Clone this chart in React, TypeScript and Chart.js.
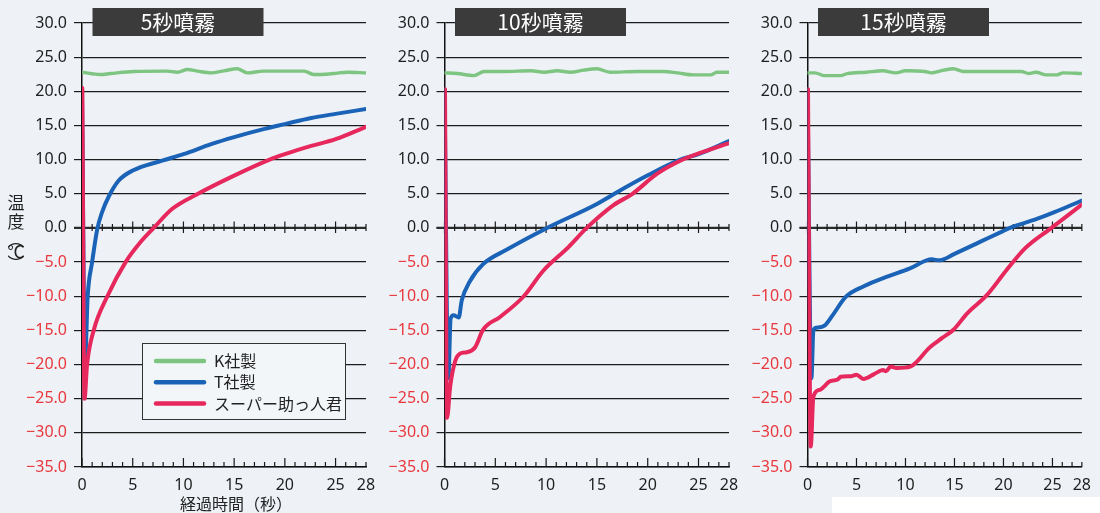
import React, { useEffect, useRef } from "react";
import { Chart, registerables } from "chart.js";
Chart.register(...registerables);

// ---- text ----
const seriesNames = ["K社製", "T社製", "スーパー助っ人君"];
const panelTitles = ["5秒噴霧", "10秒噴霧", "15秒噴霧"];
const yAxisTitleChars = ["温", "度", "︵", "℃", "︶"];
const xAxisTitle = "経過時間（秒）";
const xTickValues = [0, 5, 10, 15, 20, 25, 28];
const yTickValues = [-35, -30, -25, -20, -15, -10, -5, 0, 5, 10, 15, 20, 25, 30];

// ---- panel 1 : 5秒噴霧 ----
const p1KTime = [0, 1.8, 2.8, 5.1, 8.4, 9.4, 10.4, 11.4, 12.7, 14.0, 15.3, 16.3, 17.9, 21.9, 22.9, 24.8, 26.2, 28];
const p1KTemp = [22.8, 22.45, 22.6, 22.9, 22.95, 22.8, 23.2, 22.95, 22.7, 23.0, 23.3, 22.7, 22.95, 22.95, 22.45, 22.6, 22.8, 22.7];
const p1TTime = [0, 0.3, 0.56, 1.0, 1.5, 2.0, 2.64, 3.6, 5, 7.9, 10, 12.8, 15, 18, 20, 22.6, 25, 28];
const p1TTemp = [20.4, -19.5, -10, -5, -0.2, 2.4, 4.6, 6.9, 8.4, 9.85, 10.8, 12.3, 13.3, 14.5, 15.2, 16.1, 16.7, 17.4];
const p1RTime = [0.03, 0.25, 0.5, 1.15, 2.5, 4.3, 5.9, 7.07, 8.9, 11.3, 15, 18.5, 20, 22.6, 25, 28];
const p1RTemp = [20.5, -25, -20, -15, -10, -5, -1.85, 0, 2.8, 4.9, 7.66, 10, 10.8, 12, 13, 14.8];

// ---- panel 2 : 10秒噴霧 ----
const p2KTime = [0, 1.25, 2.9, 3.9, 5.8, 8.5, 9.8, 11.1, 12.4, 13.7, 15.0, 16.3, 19.0, 21.6, 22.9, 24.5, 26.2, 26.8, 28];
const p2KTemp = [22.7, 22.6, 22.3, 22.9, 22.9, 23.0, 22.8, 23.0, 22.8, 23.1, 23.3, 22.8, 22.9, 22.9, 22.7, 22.4, 22.4, 22.8, 22.8];
const p2TTime = [0, 0.38, 0.6, 0.9, 1.4, 1.7, 2.5, 3.8, 6.1, 10.1, 15, 16.6, 20, 23.2, 25, 28];
const p2TTemp = [20.3, -22, -13.3, -12.8, -13.1, -10.6, -7.8, -5.3, -3.2, 0, 3.5, 4.9, 7.7, 10, 10.8, 12.7];
const p2RTime = [0.05, 0.25, 0.56, 1.05, 1.55, 2.2, 3.0, 3.8, 5.5, 7.8, 9.7, 12.2, 14.0, 16.6, 18.5, 20.9, 23.3, 25, 28];
const p2RTemp = [20.3, -27.8, -23.2, -19.5, -18.4, -18.2, -17.5, -14.9, -13.0, -10.0, -6.3, -2.8, 0, 3.3, 5.0, 7.9, 9.9, 10.9, 12.4];

// ---- panel 3 : 15秒噴霧 ----
const p3KTime = [0, 0.76, 1.74, 3.39, 4.05, 6.0, 7.7, 9.0, 10.0, 12.0, 12.6, 13.9, 14.9, 15.9, 19.2, 21.8, 22.6, 23.3, 24.4, 25.4, 26.1, 28];
const p3KTemp = [22.7, 22.7, 22.3, 22.3, 22.6, 22.8, 23.0, 22.7, 23.0, 22.9, 22.7, 23.1, 23.3, 22.9, 22.9, 22.9, 22.6, 22.8, 22.4, 22.4, 22.7, 22.6];
const p3TTime = [0, 0.4, 0.6, 0.9, 1.74, 2.56, 3.9, 5.8, 7.8, 10.4, 12.7, 13.4, 15, 17.6, 19.9, 20.9, 23.2, 25.2, 28];
const p3TTemp = [20.3, -22, -15, -14.6, -14.3, -12.8, -10.1, -8.5, -7.3, -5.95, -4.6, -4.75, -3.8, -2.05, -0.5, 0.15, 1.2, 2.3, 4.0];
const p3RTime = [0.05, 0.33, 0.6, 1.25, 2.24, 3.06, 3.4, 4.5, 5.0, 5.7, 6.8, 7.7, 8.0, 8.5, 9.1, 10.5, 11.0, 12.4, 13.75, 14.9, 16.3, 18.3, 20.3, 22.2, 24.9, 28];
const p3RTemp = [20.3, -32, -24.7, -23.7, -22.5, -22.2, -21.8, -21.7, -21.5, -22.1, -21.4, -20.8, -21.0, -20.3, -20.5, -20.3, -19.8, -17.6, -16.1, -14.9, -12.5, -9.85, -6.2, -3.0, 0, 3.4];

// ---- styling ----
const W = 1100;
const H = 513;
const BG = "#eef2f7";
const COL_K = "#7dc581";
const COL_T = "#1b63b7";
const COL_R = "#e6285c";
const NEG = "#e8383d";
const INK = "#1e1e1e";
const NUM_FONT = "'Noto Sans', 'DejaVu Sans', sans-serif";
const JP_FONT = "'Noto Sans CJK JP', 'Noto Sans', sans-serif";
const Y_AXIS_W = 60;
const PLOT_TOP = 23;
const PLOT_BOTTOM = 467;

const panels = [
  { title: panelTitles[0], k: [p1KTime, p1KTemp], t: [p1TTime, p1TTemp], r: [p1RTime, p1RTemp], left: 82, right: 366, main: true },
  { title: panelTitles[1], k: [p2KTime, p2KTemp], t: [p2TTime, p2TTemp], r: [p2RTime, p2RTemp], left: 444.5, right: 729, main: false },
  { title: panelTitles[2], k: [p3KTime, p3KTemp], t: [p3TTime, p3TTemp], r: [p3RTime, p3RTemp], left: 807.5, right: 1092, main: false },
];

const toPts = (pair: number[][]) => pair[0].map((x, i) => ({ x, y: pair[1][i] }));
const fmt = (v: number) => (v < 0 ? "\u2212" + Math.abs(v).toFixed(1) : v.toFixed(1));

function makeDecor(p: any) {
  return {
    id: "decor",
    beforeDatasetsDraw(chart: any) {
      const { ctx, chartArea: ca, scales } = chart;
      const x = scales.x;
      const y = scales.y;
      const y0 = y.getPixelForValue(0);
      ctx.save();
      ctx.strokeStyle = "#2b2b2b";
      ctx.lineWidth = 2.4;
      ctx.beginPath();
      ctx.moveTo(ca.left - 8, y0);
      ctx.lineTo(ca.right, y0);
      ctx.stroke();
      ctx.lineWidth = 1.2;
      ctx.strokeStyle = "#1a1a1a";
      for (let t = 0; t <= 28; t++) {
        const px = x.getPixelForValue(t);
        const major = t % 5 === 0;
        ctx.beginPath();
        ctx.moveTo(px, y0 - (major ? 6.5 : 4));
        ctx.lineTo(px, y0 + (major ? 5 : 3));
        ctx.moveTo(px, ca.bottom);
        ctx.lineTo(px, ca.bottom - (major ? 9 : 5));
        ctx.stroke();
      }
      ctx.restore();
    },
    afterDraw(chart: any) {
      const { ctx, chartArea: ca } = chart;
      ctx.save();
      // title box
      const bx = ca.left + 10.5;
      ctx.fillStyle = "#3b3b3b";
      ctx.fillRect(bx, 8, 171, 28);
      ctx.fillStyle = "#ffffff";
      ctx.font = `400 21px ${JP_FONT}`;
      ctx.textAlign = "center";
      ctx.textBaseline = "middle";
      ctx.fillText(p.title, bx + 85.5, 22.5);

      if (p.main) {
        // legend
        ctx.fillStyle = "#f3f6f9";
        ctx.fillRect(142.5, 343.5, 203, 76);
        ctx.strokeStyle = "#333";
        ctx.lineWidth = 1;
        ctx.strokeRect(142.5, 343.5, 203, 76);
        const cols = [COL_K, COL_T, COL_R];
        ctx.lineCap = "round";
        ctx.font = `16px ${JP_FONT}`;
        ctx.textAlign = "left";
        for (let i = 0; i < 3; i++) {
          const ly = 361 + i * 21.3;
          ctx.strokeStyle = cols[i];
          ctx.lineWidth = 4.5;
          ctx.beginPath();
          ctx.moveTo(156, ly);
          ctx.lineTo(204, ly);
          ctx.stroke();
          ctx.fillStyle = "#222";
          ctx.fillText(seriesNames[i], 214, ly);
        }
        // y axis title (vertical, one glyph per row)
        ctx.fillStyle = "#222";
        ctx.font = `17px ${JP_FONT}`;
        ctx.textAlign = "center";
        ctx.textBaseline = "middle";
        const ys = [203, 222, 240, 252, 264];
        for (let i = 0; i < yAxisTitleChars.length; i++) {
          ctx.fillText(yAxisTitleChars[i], 16, ys[i]);
        }
        // x axis title
        ctx.font = `16px ${JP_FONT}`;
        ctx.fillText(xAxisTitle, 236, 504);
      }
      ctx.restore();
    },
  };
}

function Panel({ p }: { p: any }) {
  const ref = useRef<HTMLCanvasElement>(null);
  useEffect(() => {
    if (!ref.current) return;
    const chart = new Chart(ref.current, {
      type: "line",
      data: {
        datasets: [
          { label: seriesNames[0], data: toPts(p.k), borderColor: COL_K, borderWidth: 3.4, order: 3 },
          { label: seriesNames[1], data: toPts(p.t), borderColor: COL_T, borderWidth: 4, order: 2 },
          { label: seriesNames[2], data: toPts(p.r), borderColor: COL_R, borderWidth: 4, order: 1 },
        ],
      },
      options: {
        animation: false,
        responsive: false,
        maintainAspectRatio: false,
        layout: { padding: { left: p.left - Y_AXIS_W, right: W - p.right, top: PLOT_TOP, bottom: 0 } },
        plugins: { legend: { display: false }, tooltip: { enabled: false } },
        elements: {
          point: { radius: 0 },
          line: { cubicInterpolationMode: "monotone", borderCapStyle: "round", borderJoinStyle: "round", fill: false },
        },
        scales: {
          x: {
            type: "linear",
            min: 0,
            max: 28,
            afterBuildTicks: (s: any) => {
              s.ticks = xTickValues.map((v) => ({ value: v }));
            },
            afterFit: (s: any) => {
              s.height = H - PLOT_BOTTOM;
            },
            grid: { display: false, drawTicks: false },
            border: { display: true, color: "#111", width: 1.5 },
            ticks: {
              padding: 9,
              color: INK,
              autoSkip: false,
              maxRotation: 0,
              font: { family: NUM_FONT, size: 16 },
              callback: (v: any) => String(v),
            },
          },
          y: {
            type: "linear",
            min: -35,
            max: 30,
            afterBuildTicks: (s: any) => {
              s.ticks = yTickValues.map((v) => ({ value: v }));
            },
            afterFit: (s: any) => {
              s.width = Y_AXIS_W;
            },
            grid: { color: "#1c1c1c", lineWidth: 1.2, tickLength: 8, drawTicks: true },
            border: { display: true, color: "#111", width: 1.5 },
            ticks: {
              padding: 7,
              color: (c: any) => (c.tick && c.tick.value < 0 ? NEG : INK),
              font: { family: NUM_FONT, size: 16 },
              callback: (v: any) => fmt(Number(v)),
            },
          },
        },
      },
      plugins: [makeDecor(p)],
    } as any);
    return () => chart.destroy();
  }, [p]);
  return (
    <canvas
      ref={ref}
      width={W}
      height={H}
      style={{ position: "absolute", left: 0, top: 0, width: W, height: H }}
    />
  );
}

export default function App() {
  return (
    <div style={{ position: "fixed", left: 0, top: 0, width: W, height: H, background: BG, overflow: "hidden" }}>
      <div style={{ position: "absolute", left: 832, top: 497, width: 268, height: 16, background: "#ffffff" }} />
      {panels.map((p, i) => (
        <Panel key={i} p={p} />
      ))}
    </div>
  );
}
